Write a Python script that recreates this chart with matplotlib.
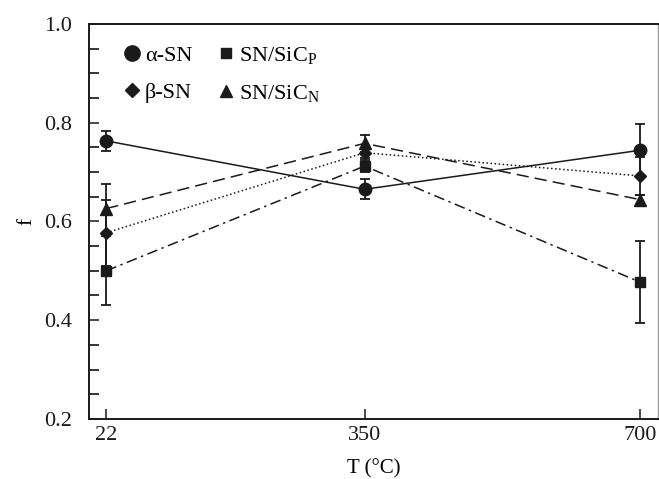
import numpy as np
from matplotlib import pyplot as plt
from matplotlib.lines import Line2D

plt.rcParams['font.family'] = ['Liberation Serif', 'DejaVu Serif']
plt.rcParams['mathtext.fontset'] = 'stix'

# 温度点
temps = [22, 350, 700]

# 各材料的 f 值及误差
alpha_sn = [0.763, 0.665, 0.744]
alpha_err = [0.020, 0.020, 0.054]
beta_sn = [0.577, 0.739, 0.692]
beta_err = [0.067, 0.010, 0.038]
sic_p = [0.500, 0.712, 0.477]
sic_p_err = [0.070, 0.012, 0.083]
sic_n = [0.626, 0.758, 0.644]
sic_n_err = [0.049, 0.017, 0.010]

labels = ['α-SN', 'β-SN', r'SN/SiC$_\mathregular{P}$', r'SN/SiC$_\mathregular{N}$']

fig = plt.figure(figsize=(6.59, 4.79), dpi=100)
ax = fig.add_axes([0.135, 0.1253, 0.864, 0.825])

series = [
    (alpha_sn, alpha_err, 'o', '-', 9),
    (beta_sn, beta_err, 'D', ':', 6),
    (sic_p, sic_p_err, 's', (0, (7, 3, 1.5, 3)), 7),
    (sic_n, sic_n_err, '^', (0, (8, 4)), 8),
]
for vals, errs, mk, ls, ms in series:
    ax.errorbar(temps, vals, yerr=errs, color='#1a1a1a', marker=mk, markersize=ms,
                linestyle=ls, linewidth=1.1, elinewidth=1.3, capsize=3.3, capthick=1.3)

ax.set_xlim(0, 723)
ax.set_ylim(0.2, 1.0)
ax.set_xticks(temps)
ax.set_yticks([0.2, 0.4, 0.6, 0.8, 1.0])
ax.set_yticks(np.arange(0.2, 1.0, 0.05), minor=True)
ax.tick_params(direction='in', labelsize=16, length=7, width=1.1, colors='#1a1a1a')
ax.tick_params(axis='y', pad=12)
ax.tick_params(axis='x', pad=5)
ax.tick_params(which='minor', direction='in', length=7, width=1.1)
ax.set_xlabel('T (°C)', fontsize=15, labelpad=10)
ax.set_ylabel('f', fontsize=15, labelpad=6)
for s in ['left', 'bottom', 'top']:
    ax.spines[s].set_linewidth(1.4)
    ax.spines[s].set_color('#1a1a1a')
ax.spines['right'].set_color('#999999')
ax.spines['right'].set_linewidth(1.0)

# 图例：两列，只显示标记
handles = [
    Line2D([], [], color='#1a1a1a', marker='o', markersize=11, linestyle='none'),
    Line2D([], [], color='#1a1a1a', marker='D', markersize=7, linestyle='none'),
    Line2D([], [], color='#1a1a1a', marker='s', markersize=7, linestyle='none'),
    Line2D([], [], color='#1a1a1a', marker='^', markersize=9, linestyle='none'),
]
ax.legend(handles, labels, loc='upper left', ncol=2, frameon=False, fontsize=16,
          handlelength=0.6, handletextpad=0.3, columnspacing=1.2, labelspacing=0.75,
          borderaxespad=0.2, bbox_to_anchor=(0.04, 0.98))

fig.savefig('out.png', dpi=100)
